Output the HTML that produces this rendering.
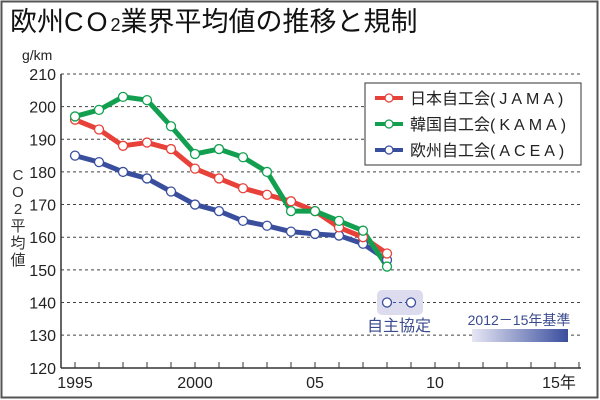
<!DOCTYPE html>
<html><head><meta charset="utf-8"><style>
html,body{margin:0;padding:0;background:#fff;}
svg{display:block;font-family:"Liberation Sans","Noto Sans CJK JP",sans-serif;}
</style></head><body>
<svg id="s" width="600" height="400" viewBox="0 0 600 400">
<defs><linearGradient id="g" x1="0" x2="1"><stop offset="0" stop-color="#e6e6f4"/><stop offset="1" stop-color="#3a4e9e"/></linearGradient></defs>
<rect x="1.5" y="1.5" width="596" height="396" fill="#fff" stroke="#555" stroke-width="2"/>
<text x="10" y="31" font-size="27" fill="#111">欧州<tspan letter-spacing="3">CO</tspan><tspan font-size="18">2</tspan>業界平均値の推移と規制</text>
<text x="22" y="60" font-size="14" fill="#222">g/km</text>
<text font-size="15" fill="#333" text-anchor="middle"><tspan x="18" y="180">C</tspan><tspan x="18" y="197">O</tspan><tspan x="18" y="214">2</tspan><tspan x="18" y="231">平</tspan><tspan x="18" y="248">均</tspan><tspan x="18" y="265">値</tspan></text>
<g id="grid"></g>
<rect x="377" y="290" width="46" height="25" rx="5" fill="#dcdcee"/>
<line x1="61" y1="368" x2="581" y2="368" stroke="#333" stroke-width="1.5"/>
<line x1="61" y1="74" x2="61" y2="368" stroke="#333" stroke-width="1.5"/>
<g id="ser"></g>
<text x="399" y="331" font-size="16" fill="#3a4a8e" text-anchor="middle">自主協定</text>
<text x="519" y="325" font-size="14" fill="#3a4a8e" text-anchor="middle">2012－15年基準</text>
<rect x="472" y="329" width="96" height="13" fill="url(#g)"/>
<rect x="365" y="83" width="216" height="82" fill="#fff" stroke="#555" stroke-width="1.2"/>
<g font-size="16" fill="#222">
<line x1="375" y1="98" x2="403" y2="98" stroke="#e8413a" stroke-width="4"/><circle cx="389" cy="98" r="4" fill="#fff" stroke="#e8413a" stroke-width="1.3"/>
<text x="410" y="104">日本自工会<tspan letter-spacing="4">(JAMA)</tspan></text>
<line x1="375" y1="124" x2="403" y2="124" stroke="#12a050" stroke-width="4"/><circle cx="389" cy="124" r="4" fill="#fff" stroke="#12a050" stroke-width="1.3"/>
<text x="410" y="130">韓国自工会<tspan letter-spacing="4">(KAMA)</tspan></text>
<line x1="375" y1="150" x2="403" y2="150" stroke="#3a4e9e" stroke-width="4"/><circle cx="389" cy="150" r="4" fill="#fff" stroke="#3a4e9e" stroke-width="1.3"/>
<text x="410" y="156">欧州自工会<tspan letter-spacing="4">(ACEA)</tspan></text>
</g>
</svg>
<script>
var NS="http://www.w3.org/2000/svg";
function el(p,t,a,txt){var e=document.createElementNS(NS,t);for(var k in a)e.setAttribute(k,a[k]);if(txt)e.textContent=txt;p.appendChild(e);return e;}
function X(y){return 75+(y-1995)*24;}
function Y(v){return 74+(210-v)*3.264;}
var g=document.getElementById("grid");
for(var v=120;v<=210;v+=10){var y=Y(v);
 if(v>120)el(g,"line",{x1:61,y1:y,x2:581,y2:y,stroke:"#444","stroke-width":1,"stroke-dasharray":"3,3"});
 el(g,"text",{x:56,y:y+6,"font-size":16,"text-anchor":"end",fill:"#222"},String(v));}
for(var yr=1995;yr<=2016;yr++){el(g,"line",{x1:X(yr),y1:362,x2:X(yr),y2:368,stroke:"#333","stroke-width":1});}
[[1995,"1995"],[2000,"2000"],[2005,"05"],[2010,"10"],[2015,"15年"]].forEach(function(a){el(g,"text",{x:X(a[0])+(a[0]==2015?4:0),y:388,"font-size":16,"text-anchor":"middle",fill:"#222"},a[1]);});
var s=document.getElementById("ser");
var D=[["#3a4e9e",[185,183,180,178,174,170,168,165,163.5,161.7,161,160.5,158,153]],
["#e8413a",[196,193,188,189,187,181,178,175,173,171,168,163,160,155]],
["#12a050",[197,199,203,202,194,185.5,187,184.5,180,168,168,165,162,151]]];
D.forEach(function(d){var pts=d[1].map(function(v,i){return X(1995+i)+","+Y(v);}).join(" ");
 el(s,"polyline",{points:pts,fill:"none",stroke:d[0],"stroke-width":5,"stroke-linejoin":"round"});});
D.forEach(function(d){d[1].forEach(function(v,i){el(s,"circle",{cx:X(1995+i),cy:Y(v),r:4.5,fill:"#fff",stroke:d[0],"stroke-width":1.3});});});
el(s,"line",{x1:X(2008),y1:Y(140),x2:X(2009),y2:Y(140),stroke:"#3a4e9e","stroke-width":1,"stroke-dasharray":"3,3"});
[2008,2009].forEach(function(yr){el(s,"circle",{cx:X(yr),cy:Y(140),r:4.5,fill:"#fff",stroke:"#3a4e9e","stroke-width":1.3});});
</script>
</body></html>
